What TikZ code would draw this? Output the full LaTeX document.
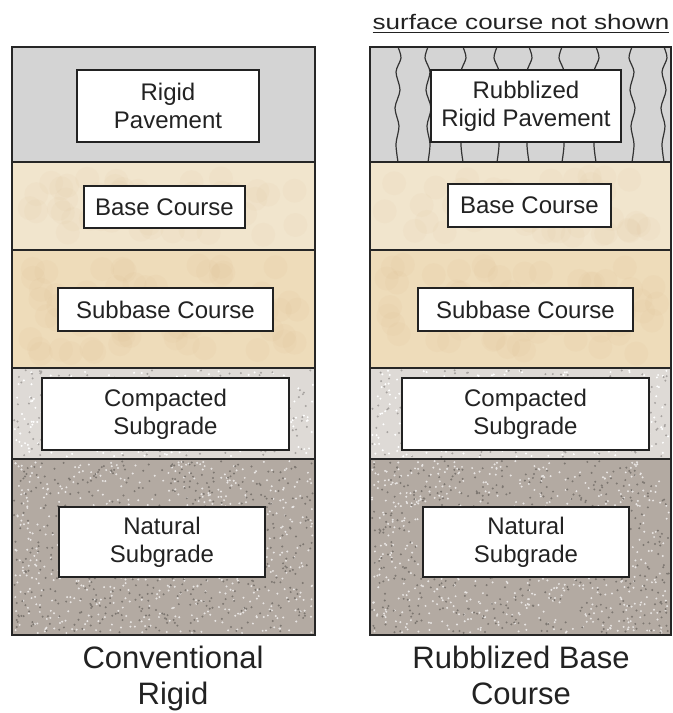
\documentclass[tikz,border=0pt]{standalone}
\usepackage{fontspec}
\setmainfont{Liberation Sans}
\newfontfamily\widefont[FakeStretch=1.24]{Liberation Sans}
\definecolor{rigidgray}{HTML}{D4D4D4}
\definecolor{basetan}{HTML}{F1E5CD}
\definecolor{subtan}{HTML}{EEDCBA}
\definecolor{compgray}{HTML}{DEDAD6}
\definecolor{natgray}{HTML}{B3AAA2}
\definecolor{inkgray}{HTML}{222222}
\tikzset{
  layer/.style={draw=black!85,line width=0.7pt},
  label box/.style={draw=inkgray,line width=0.8pt,fill=white,align=center,inner sep=0pt,
    text=inkgray,font=\fontsize{12}{14}\selectfont},
  caption/.style={text=inkgray,align=center,anchor=base,font=\fontsize{15.5}{18}\selectfont},
  crack/.style={line width=0.6pt,black!80},
}
% random grains inside a layer: x0, y0, width, height, count, colour
\newcommand{\grit}[6]{\foreach \k in {1,...,#5}{\fill[#6] ({#1+rnd*(#3)},{#2+rnd*(#4)}) circle (0.55pt);}}
\newcommand{\mottle}[6]{\foreach \k in {1,...,#5}{\fill[#6,opacity=0.08] ({#1+rnd*(#3)},{#2+rnd*(#4)}) circle (6pt);}}
\begin{document}
\begin{tikzpicture}[x=0.5pt,y=-0.5pt]
\useasboundingbox (0,0) rectangle (673,713);
\pgfmathsetseed{31}
% the two columns of layers
\foreach \xa/\xb in {12/315,370/671}{
  \fill[rigidgray] (\xa,47) rectangle (\xb,162);
  \fill[basetan] (\xa,162) rectangle (\xb,250);
  \fill[subtan] (\xa,250) rectangle (\xb,368);
  \fill[compgray] (\xa,368) rectangle (\xb,459);
  \fill[natgray] (\xa,459) rectangle (\xb,635);
  \mottle{\xa+14}{176}{\xb-\xa-28}{60}{45}{brown!40!basetan}
  \mottle{\xa+14}{264}{\xb-\xa-28}{90}{60}{brown!45!subtan}
  \grit{\xa+2}{370}{\xb-\xa-4}{87}{260}{white}
  \grit{\xa+2}{370}{\xb-\xa-4}{87}{220}{compgray!75!black}
  \grit{\xa+2}{461}{\xb-\xa-4}{172}{650}{white!70!natgray}
  \grit{\xa+2}{461}{\xb-\xa-4}{172}{550}{natgray!70!black}
}
% cracks in the rubblized slab
\foreach \cx/\s in {398/1,428/-1,463/1,497/-1,529/1,562/-1,596/1,632/-1,664/1}
  \draw[crack] plot[smooth] coordinates {(\cx,47) ({\cx+3*\s},58) ({\cx-2*\s},72) ({\cx+2*\s},90)
    ({\cx-3*\s},108) ({\cx+\s},126) ({\cx-2*\s},144) (\cx,162)};
\foreach \xa/\xb in {12/315,370/671}{
  \draw[layer] (\xa,47) rectangle (\xb,635);
  \foreach \yy in {162,250,368,459} \draw[layer] (\xa,\yy) -- (\xb,\yy);
}
% labels, conventional section
\node[label box,minimum width=91pt,minimum height=36pt] (rigid) at (168,106) {Rigid\\Pavement};
\node[label box,minimum width=80.5pt,minimum height=21pt] (base) at (164.5,207) {Base Course};
\node[label box,minimum width=107.5pt,minimum height=21.5pt] (subbase) at (165.5,309.5) {Subbase Course};
\node[label box,minimum width=123.5pt,minimum height=36pt] (compact) at (165.5,414) {Compacted\\Subgrade};
\node[label box,minimum width=103pt,minimum height=35pt] (natural) at (162,542) {Natural\\Subgrade};
% labels, rubblized section
\node[label box,minimum width=95pt,minimum height=36pt] (rubble) at (526,106) {Rubblized\\Rigid Pavement};
\node[label box,minimum width=81.5pt,minimum height=21.5pt] (rbase) at (529.5,205.5) {Base Course};
\node[label box,minimum width=107.5pt,minimum height=21.5pt] (rsubbase) at (525.5,309.5) {Subbase Course};
\node[label box,minimum width=123.5pt,minimum height=36pt] (rcompact) at (525.5,414) {Compacted\\Subgrade};
\node[label box,minimum width=103pt,minimum height=35pt] (rnatural) at (526,542) {Natural\\Subgrade};
% captions
\node[anchor=base,text=inkgray,font=\widefont\fontsize{10.5}{12}\selectfont] (note) at (521,29) {\underline{surface course not shown}};
\node[caption] (conv) at (173,704) {Conventional\\Rigid};
\node[caption] (rubb) at (521,704) {Rubblized Base\\Course};
\end{tikzpicture}
\end{document}
